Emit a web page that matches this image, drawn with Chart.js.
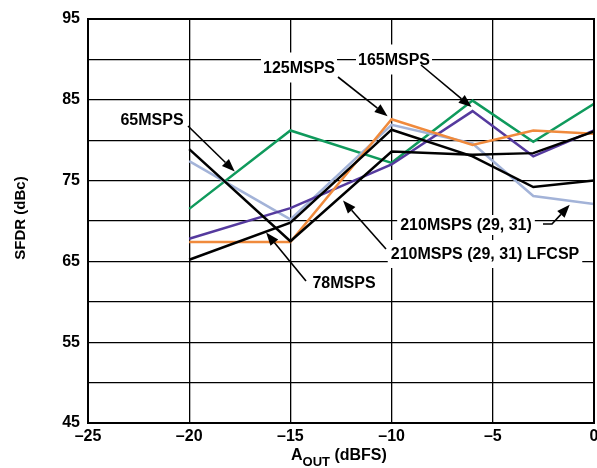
<!DOCTYPE html>
<html>
<head>
<meta charset="utf-8">
<script src="https://cdn.jsdelivr.net/npm/chart.js@4/dist/chart.umd.min.js"></script>
<style>
  html, body { margin: 0; padding: 0; background: #fff; }
  #wrap { width: 597px; height: 468px; }
</style>
</head>
<body>
<div id="wrap"><canvas id="c" width="597" height="468"></canvas></div>
<script>
// Output amplitude (dBFS) at which SFDR was measured
const aOut = [-20, -15, -10, -6, -3, 0];

// SFDR (dBc) per sample rate
const sfdr65 = [71.5, 81.2, 77.2, 84.9, 79.8, 84.5];
const sfdr78 = [65.2, 69.8, 81.3, 78.0, 74.2, 75.0];
const sfdr125 = [67.4, 67.4, 82.6, 79.4, 81.2, 80.8];
const sfdr165 = [67.8, 71.6, 77.0, 83.6, 78.0, 81.2];
const sfdr210 = [77.4, 70.2, 81.9, 79.6, 73.1, 72.1];
const sfdr210Lfcsp = [78.9, 67.5, 78.6, 78.2, 78.4, 81.1];

// Axis tick labels
const xTickLabels = ['–25', '–20', '–15', '–10', '–5', '0'];
const yTickLabels = ['45', '55', '65', '75', '85', '95'];

const FONT = '"Liberation Sans", Arial, Helvetica, sans-serif';

const pts = ys => aOut.map((x, i) => ({ x: x, y: ys[i] }));

// Linear interpolation along a series, used to land leader arrows on a trace
function along(ys, xv) {
  for (let i = 0; i < aOut.length - 1; i++) {
    const x0 = aOut[i], x1 = aOut[i + 1];
    if (xv >= x0 && xv <= x1) {
      const t = (xv - x0) / (x1 - x0);
      return ys[i] + t * (ys[i + 1] - ys[i]);
    }
  }
  return ys[ys.length - 1];
}

// Callout labels: text placement, leader start, and the trace the arrow points at
const callouts = [
  { text: '65MSPS', cx: 152, cy: 120, padX: 3, padY: 4, from: [188, 126], series: sfdr65, at: -17.75, off: [0, -2] },
  { text: '125MSPS', cx: 299, cy: 67.5, padX: 2, padY: 7, from: [338, 77], series: sfdr125, at: -10, off: [-4, -3] },
  { text: '165MSPS', cx: 394, cy: 59.5, padX: 2, padY: 7, from: [421, 65], series: sfdr165, at: -6, off: [-1, -4] },
  { text: '78MSPS', cx: 344, cy: 283, padX: 3, padY: 4, from: [306, 281], series: sfdr78, at: -16.2, off: [0, 1] },
  { text: '210MSPS (29, 31)', cx: 466, cy: 225, padX: 3, padY: 2, from: [543, 224], via: [552, 224], series: sfdr210, at: -1.2, off: [0, 4] },
  { text: '210MSPS (29, 31) LFCSP', cx: 485, cy: 254, padX: 3, padY: 6, from: [386, 249], series: sfdr210Lfcsp, at: -12.4, off: [0, 6] }
];

const calloutFont = 'bold 16px ' + FONT;

const decor = {
  id: 'decor',
  beforeDatasetsDraw(chart) {
    const ctx = chart.ctx;
    ctx.save();
    ctx.font = calloutFont;
    ctx.fillStyle = '#fff';
    callouts.forEach(c => {
      const w = ctx.measureText(c.text).width;
      ctx.fillRect(c.cx - w / 2 - c.padX, c.cy - 8 - c.padY, w + 2 * c.padX, 16 + 2 * c.padY);
    });
    ctx.restore();
  },
  afterDatasetsDraw(chart) {
    const ctx = chart.ctx;
    const xs = chart.scales.x, ys = chart.scales.y;
    const a = chart.chartArea;
    ctx.save();

    // plot frame
    ctx.strokeStyle = '#000';
    ctx.lineWidth = 2;
    ctx.strokeRect(a.left, a.top, a.right - a.left, a.bottom - a.top);

    // callouts
    ctx.font = calloutFont;
    ctx.fillStyle = '#000';
    ctx.textAlign = 'center';
    ctx.textBaseline = 'middle';
    callouts.forEach(c => {
      ctx.fillText(c.text, c.cx, c.cy + 1);
      const tx = xs.getPixelForValue(c.at) + c.off[0];
      const ty = ys.getPixelForValue(along(c.series, c.at)) + c.off[1];
      const start = c.via || c.from;
      const ang = Math.atan2(ty - start[1], tx - start[0]);
      const headLen = 13, headHalf = 5;
      const bx = tx - headLen * Math.cos(ang), by = ty - headLen * Math.sin(ang);
      ctx.lineWidth = 1.6;
      ctx.beginPath();
      ctx.moveTo(c.from[0], c.from[1]);
      if (c.via) ctx.lineTo(c.via[0], c.via[1]);
      ctx.lineTo(bx, by);
      ctx.stroke();
      ctx.beginPath();
      ctx.moveTo(tx, ty);
      ctx.lineTo(bx + headHalf * Math.sin(ang), by - headHalf * Math.cos(ang));
      ctx.lineTo(bx - headHalf * Math.sin(ang), by + headHalf * Math.cos(ang));
      ctx.closePath();
      ctx.fill();
    });

    // y-axis title
    ctx.save();
    ctx.translate(21, 218);
    ctx.rotate(-Math.PI / 2);
    ctx.font = 'bold 15px ' + FONT;
    ctx.textAlign = 'center';
    ctx.textBaseline = 'middle';
    ctx.fillText('SFDR (dBc)', 0, 0);
    ctx.restore();

    // x-axis title with subscript
    ctx.textAlign = 'left';
    ctx.textBaseline = 'alphabetic';
    let x = 291;
    ctx.font = 'bold 16px ' + FONT;
    ctx.fillText('A', x, 460);
    x += ctx.measureText('A').width;
    ctx.font = 'bold 13px ' + FONT;
    ctx.fillText('OUT', x, 466);
    x += ctx.measureText('OUT').width;
    ctx.font = 'bold 16px ' + FONT;
    ctx.fillText(' (dBFS)', x, 460);

    ctx.restore();
  }
};

const tickFont = { family: FONT, size: 16, weight: 'bold' };

new Chart(document.getElementById('c'), {
  type: 'line',
  data: {
    datasets: [
      { label: '210MSPS (29, 31) LFCSP', data: pts(sfdr210Lfcsp), borderColor: '#000000' },
      { label: '78MSPS', data: pts(sfdr78), borderColor: '#000000' },
      { label: '125MSPS', data: pts(sfdr125), borderColor: '#f08a3c' },
      { label: '165MSPS', data: pts(sfdr165), borderColor: '#553a9e' },
      { label: '210MSPS (29, 31)', data: pts(sfdr210), borderColor: '#a3b3d8' },
      { label: '65MSPS', data: pts(sfdr65), borderColor: '#0f9a5c' }
    ]
  },
  options: {
    responsive: false,
    animation: false,
    devicePixelRatio: 1,
    layout: { padding: { left: 0, right: 3, top: 19, bottom: 0 } },
    plugins: { legend: { display: false }, tooltip: { enabled: false } },
    elements: {
      point: { radius: 0 },
      line: { borderWidth: 2.5, tension: 0, fill: false, borderJoinStyle: 'miter' }
    },
    scales: {
      x: {
        type: 'linear', min: -25, max: 0,
        ticks: {
          stepSize: 5, autoSkip: false, maxRotation: 0, padding: 4,
          color: '#000', font: tickFont,
          callback: v => xTickLabels[Math.round((v + 25) / 5)]
        },
        grid: { color: '#000', lineWidth: 1.3, drawTicks: false },
        border: { display: false },
        afterFit(s) { s.height = 45; s.paddingLeft = 0; s.paddingRight = 0; }
      },
      y: {
        min: 45, max: 95,
        ticks: {
          stepSize: 5, autoSkip: false, padding: 8,
          color: '#000', font: tickFont,
          callback: v => yTickLabels.includes(String(v)) ? String(v) : ''
        },
        grid: { color: '#000', lineWidth: 1.3, drawTicks: false },
        border: { display: false },
        afterFit(s) { s.width = 88; s.paddingTop = 0; s.paddingBottom = 0; }
      }
    }
  },
  plugins: [decor]
});
</script>
</body>
</html>
